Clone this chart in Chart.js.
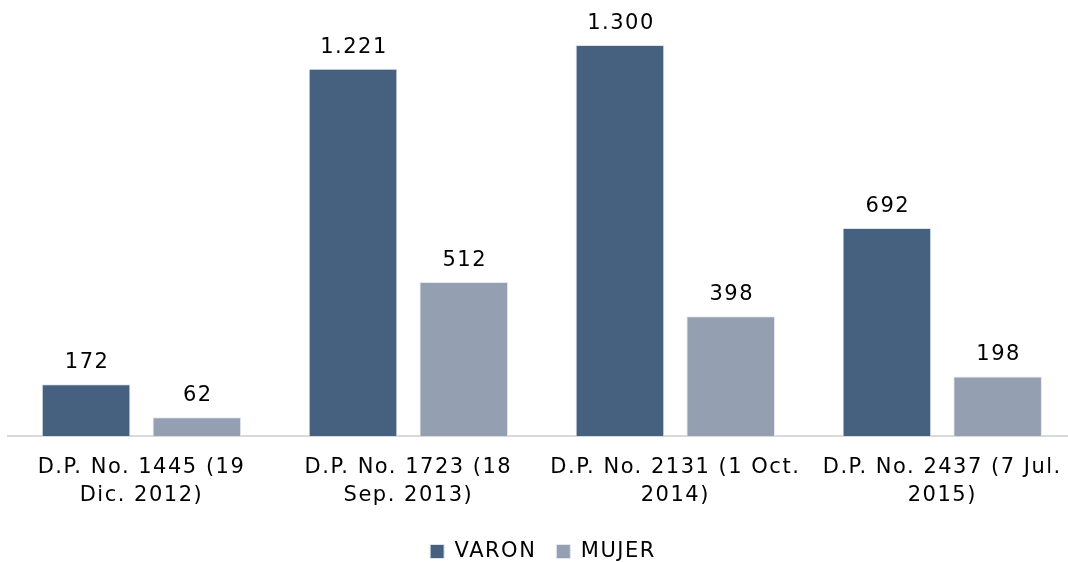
<!DOCTYPE html>
<html>
<head>
<meta charset="utf-8">
<script src="https://cdn.jsdelivr.net/npm/chart.js@4/dist/chart.umd.min.js"></script>
<style>
html,body{margin:0;padding:0;background:#fff;}
#wrap{width:1068px;height:562px;overflow:hidden;}
</style>
</head>
<body>
<div id="wrap"><canvas id="chart" width="1080" height="562"></canvas></div>
<script>
const categories=[
["D.P. No. 1445 (19","Dic. 2012)"],
["D.P. No. 1723 (18","Sep. 2013)"],
["D.P. No. 2131 (1 Oct.","2014)"],
["D.P. No. 2437 (7 Jul.","2015)"]
];
const varon=[172,1221,1300,692];
const mujer=[62,512,398,198];

const fontFamily="'DejaVu Sans', Verdana, sans-serif";
const spacing="1.5px";

function fmt(v){
return String(v).replace(/\B(?=(\d{3})+(?!\d))/g,".");
}

// verdana is wider than dejavu, so widen the letters a bit
const wideText={
id:"wideText",
beforeUpdate(chart){chart.ctx.letterSpacing=spacing;},
beforeLayout(chart){chart.ctx.letterSpacing=spacing;},
beforeDraw(chart){chart.ctx.letterSpacing=spacing;}
};

const valueLabels={
id:"valueLabels",
afterDatasetsDraw(chart){
const ctx=chart.ctx;
ctx.save();
ctx.letterSpacing=spacing;
ctx.font="21px "+fontFamily;
ctx.fillStyle="#000";
ctx.textAlign="center";
ctx.textBaseline="alphabetic";
chart.data.datasets.forEach((ds,i)=>{
chart.getDatasetMeta(i).data.forEach((bar,j)=>{
ctx.fillText(fmt(ds.data[j]),bar.x+1,bar.y-16);
});
});
ctx.restore();
}
};

new Chart(document.getElementById("chart"),{
type:"bar",
data:{
labels:categories,
datasets:[{
label:"VARON",
data:varon,
backgroundColor:"#46617f",
borderColor:"#dfe4ea",
borderWidth:1,
categoryPercentage:0.83,
barPercentage:0.8
},{
label:"MUJER",
data:mujer,
backgroundColor:"#94a0b2",
borderColor:"#e4e8ee",
borderWidth:1,
categoryPercentage:0.83,
barPercentage:0.8
}]
},
options:{
responsive:false,
animation:false,
layout:{padding:{top:15,left:8,right:2,bottom:-10}},
scales:{
y:{display:false,min:0,max:1400},
x:{
grid:{display:false,drawTicks:false},
border:{display:true,color:"#d9d9d9",width:2},
ticks:{
color:"#000",
padding:18,
maxRotation:0,
autoSkip:false,
font:{family:fontFamily,size:21,lineHeight:1.33}
},
afterFit(scale){scale.height=85;}
}
},
plugins:{
legend:{
position:"bottom",
labels:{
color:"#000",
boxWidth:14,
boxHeight:14,
padding:20,
font:{family:fontFamily,size:21}
}
},
tooltip:{enabled:false}
}
},
plugins:[wideText,valueLabels]
});
</script>
</body>
</html>
